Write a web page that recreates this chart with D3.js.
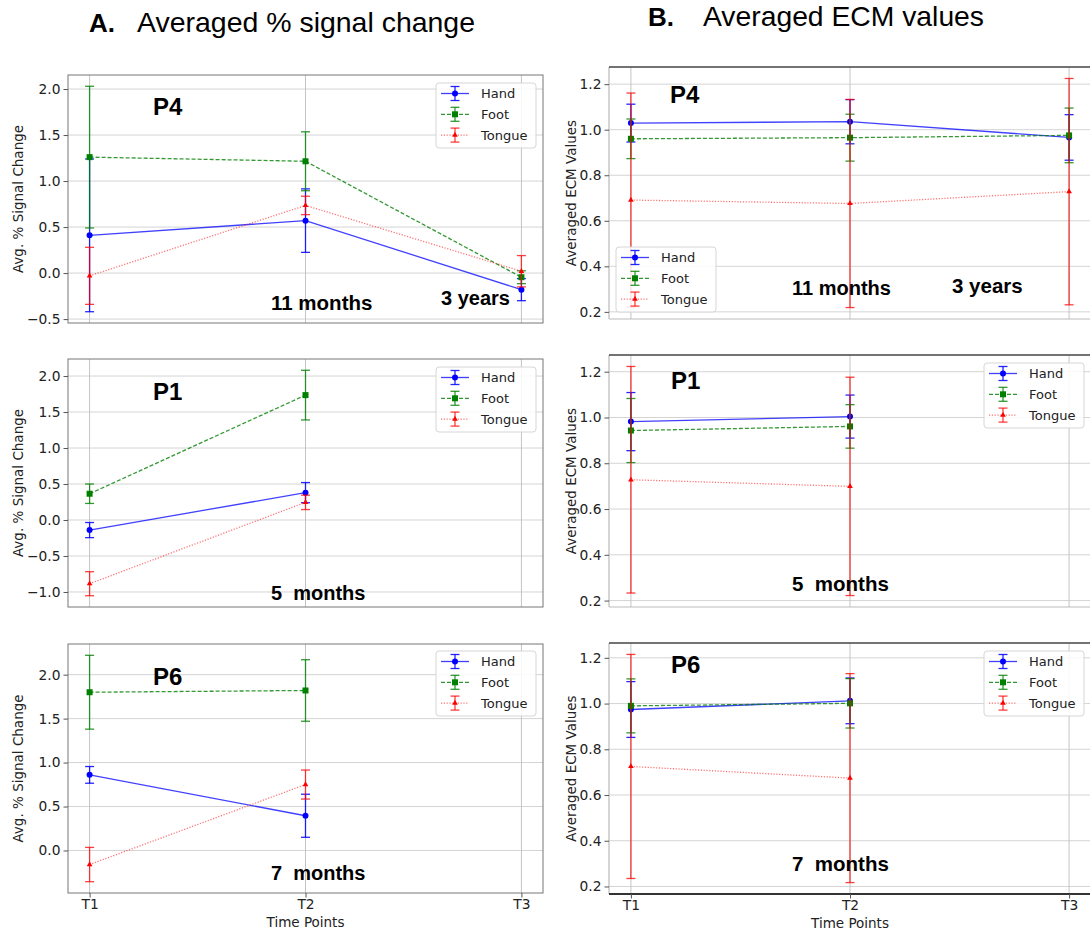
<!DOCTYPE html>
<html>
<head>
<meta charset="utf-8">
<title>Averaged % signal change and ECM values</title>
<script src="https://d3js.org/d3.v7.min.js"></script>
<style>
body { margin: 0; background: #fff; }
svg { display: block; }
text { font-family: "DejaVu Sans", sans-serif; fill: #222; }
.bold { font-family: "Liberation Sans", Arial, sans-serif; font-weight: bold; fill: #000; }
.head { font-family: "Liberation Sans Narrow", "Liberation Sans", Arial, sans-serif; fill: #000; }
</style>
</head>
<body>
<svg id="chart" width="1090" height="932"></svg>
<script>
// x axis categories and series names
var timePoints = ["T1", "T2", "T3"];
var groups = ["Hand", "Foot", "Tongue"];

// A. averaged % signal change (rows: Hand, Foot, Tongue), +/- error
var p4SignalMean = [[0.41, 0.57, -0.18], [1.26, 1.215, -0.045], [-0.03, 0.735, 0.02]];
var p4SignalErr  = [[0.83, 0.345, 0.12], [0.77, 0.32, 0.07], [0.31, 0.10, 0.17]];
var p1SignalMean = [[-0.14, 0.38], [0.365, 1.735], [-0.885, 0.245]];
var p1SignalErr  = [[0.105, 0.14], [0.135, 0.345], [0.167, 0.10]];
var p6SignalMean = [[0.86, 0.395], [1.80, 1.82], [-0.16, 0.75]];
var p6SignalErr  = [[0.095, 0.245], [0.42, 0.35], [0.195, 0.165]];

// B. averaged ECM values
var p4EcmMean = [[1.029, 1.035, 0.966], [0.96, 0.965, 0.975], [0.691, 0.676, 0.728]];
var p4EcmErr  = [[0.083, 0.097, 0.10], [0.087, 0.103, 0.12], [0.47, 0.457, 0.497]];
var p1EcmMean = [[0.982, 1.004], [0.943, 0.961], [0.728, 0.699]];
var p1EcmErr  = [[0.127, 0.094], [0.14, 0.095], [0.495, 0.477]];
var p6EcmMean = [[0.974, 1.012], [0.99, 1.001], [0.725, 0.674]];
var p6EcmErr  = [[0.122, 0.10], [0.118, 0.108], [0.49, 0.457]];

// tick values
var signalTicksP4 = [-0.5, 0, 0.5, 1, 1.5, 2];
var signalTicksP1 = [-1, -0.5, 0, 0.5, 1, 1.5, 2];
var signalTicksP6 = [0, 0.5, 1, 1.5, 2];
var ecmTicks = [0.2, 0.4, 0.6, 0.8, 1.0, 1.2];

var styles = [
  { color: "#0000ff", dash: null, marker: "circle", opacity: 0.75, barOpacity: 0.85 },
  { color: "#008000", dash: "4,2", marker: "square", opacity: 0.8, barOpacity: 0.8 },
  { color: "#ff0000", dash: "1.2,1.6", marker: "triangle", opacity: 0.55, barOpacity: 0.75 }
];

var panels = [
  { mean: p4SignalMean, err: p4SignalErr, ticks: signalTicksP4, left: 68, right: 543, top: 75, bottom: 323,
    ylabel: "Avg. % Signal Change", ylabelX: 18, frame: "a", legend: [436, 83],
    notes: [["P4", 153, 115, 24], ["11 months", 271, 310, 20.5], ["3 years", 441, 305, 20]] },
  { mean: p1SignalMean, err: p1SignalErr, ticks: signalTicksP1, left: 68, right: 543, top: 359, bottom: 607,
    ylabel: "Avg. % Signal Change", ylabelX: 18, frame: "a", legend: [436, 367],
    notes: [["P1", 153, 400, 24], ["5  months", 271, 600, 20]] },
  { mean: p6SignalMean, err: p6SignalErr, ticks: signalTicksP6, left: 68, right: 543, top: 644, bottom: 893,
    ylabel: "Avg. % Signal Change", ylabelX: 18, frame: "a", legend: [436, 651], xaxis: true,
    notes: [["P6", 153, 685, 24], ["7  months", 271, 880, 20]] },
  { mean: p4EcmMean, err: p4EcmErr, ticks: ecmTicks, left: 609, right: 1091, top: 67, bottom: 319,
    ylabel: "Averaged ECM Values", ylabelX: 571, frame: "b", legend: [616, 247],
    notes: [["P4", 670, 103, 24], ["11 months", 792, 295, 20], ["3 years", 952, 293, 20.5]] },
  { mean: p1EcmMean, err: p1EcmErr, ticks: ecmTicks, left: 609, right: 1091, top: 355, bottom: 607,
    ylabel: "Averaged ECM Values", ylabelX: 571, frame: "b", legend: [984, 363],
    notes: [["P1", 671, 389, 24], ["5  months", 792, 591, 20.5]] },
  { mean: p6EcmMean, err: p6EcmErr, ticks: ecmTicks, left: 609, right: 1091, top: 643, bottom: 894,
    ylabel: "Averaged ECM Values", ylabelX: 571, frame: "b", legend: [984, 651], xaxis: true, darkBottom: true,
    notes: [["P6", 671, 673, 24], ["7  months", 792, 871, 20.5]] }
];

var svg = d3.select("#chart");

// column headings
var headA = svg.append("g");
headA.append("text").attr("class", "bold").attr("x", 89).attr("y", 32).style("font-size", "26px").text("A.");
headA.append("text").attr("class", "head").attr("x", 137).attr("y", 32).style("font-size", "28px")
  .attr("textLength", 338).attr("lengthAdjust", "spacingAndGlyphs").text("Averaged % signal change");
var headB = svg.append("g");
headB.append("text").attr("class", "bold").attr("x", 648).attr("y", 26).style("font-size", "26px").text("B.");
headB.append("text").attr("class", "head").attr("x", 703).attr("y", 26).style("font-size", "28px")
  .attr("textLength", 281).attr("lengthAdjust", "spacingAndGlyphs").text("Averaged ECM values");

function drawMarker(g, type, cx, cy, color) {
  if (type === "circle") {
    g.append("circle").attr("cx", cx).attr("cy", cy).attr("r", 3).attr("fill", color);
  } else if (type === "square") {
    g.append("rect").attr("x", cx - 3).attr("y", cy - 3).attr("width", 6).attr("height", 6).attr("fill", color);
  } else {
    g.append("path").attr("d", d3.symbol(d3.symbolTriangle, 14)()).attr("transform", "translate(" + cx + "," + cy + ")")
      .attr("fill", color);
  }
}

function drawErrorBar(g, cx, y0, y1, color, opacity) {
  g.append("line").attr("x1", cx).attr("x2", cx).attr("y1", y0).attr("y2", y1)
    .attr("stroke", color).attr("stroke-width", 1.3).attr("opacity", opacity);
  [y0, y1].forEach(function (yy) {
    g.append("line").attr("x1", cx - 4.5).attr("x2", cx + 4.5).attr("y1", yy).attr("y2", yy)
      .attr("stroke", color).attr("stroke-width", 1.3).attr("opacity", opacity);
  });
}

panels.forEach(function (p) {
  var g = svg.append("g");

  // y domain = data extent with matplotlib's 5% margins
  var lo = d3.min(p.mean, function (row, s) { return d3.min(row, function (v, i) { return v - p.err[s][i]; }); });
  var hi = d3.max(p.mean, function (row, s) { return d3.max(row, function (v, i) { return v + p.err[s][i]; }); });
  var pad = (hi - lo) * 0.05;

  var x = d3.scalePoint().domain(timePoints).range([p.left, p.right]).padding(0.1);
  var y = d3.scaleLinear().domain([lo - pad, hi + pad]).range([p.bottom, p.top]);

  // grid
  g.selectAll(".hgrid").data(p.ticks).enter().append("line")
    .attr("x1", p.left).attr("x2", p.right).attr("y1", y).attr("y2", y)
    .attr("stroke", "#d4d4d4").attr("stroke-width", 1);
  g.selectAll(".vgrid").data(timePoints).enter().append("line")
    .attr("x1", x).attr("x2", x).attr("y1", p.top).attr("y2", p.bottom)
    .attr("stroke", "#c4c4c4").attr("stroke-width", 1);

  // frame
  if (p.frame === "a") {
    g.append("rect").attr("x", p.left).attr("y", p.top).attr("width", p.right - p.left).attr("height", p.bottom - p.top)
      .attr("fill", "none").attr("stroke", "#777").attr("stroke-width", 1);
  } else {
    g.append("line").attr("x1", p.left).attr("x2", p.left).attr("y1", p.top).attr("y2", p.bottom).attr("stroke", "#aaa");
    g.append("line").attr("x1", p.left).attr("x2", p.right).attr("y1", p.top).attr("y2", p.top)
      .attr("stroke", "#444").attr("stroke-width", 1.6);
    g.append("line").attr("x1", p.left).attr("x2", p.right).attr("y1", p.bottom).attr("y2", p.bottom)
      .attr("stroke", p.darkBottom ? "#333" : "#bbb").attr("stroke-width", p.darkBottom ? 2 : 1);
  }

  // y axis
  var yAxis = g.append("g").attr("transform", "translate(" + p.left + ",0)")
    .call(d3.axisLeft(y).tickValues(p.ticks).tickFormat(d3.format(".1f")).tickSize(4.5).tickPadding(3));
  yAxis.select(".domain").remove();
  yAxis.selectAll("line").attr("stroke", "#555");
  yAxis.selectAll("text").style("font-size", "13.8px").attr("fill", "#222").style("font-family", "DejaVu Sans");

  if (p.xaxis) {
    var xAxis = g.append("g").attr("transform", "translate(0," + p.bottom + ")")
      .call(d3.axisBottom(x).tickSize(4.5).tickPadding(2));
    xAxis.select(".domain").remove();
    xAxis.selectAll("line").attr("stroke", "#555");
    xAxis.selectAll("text").style("font-size", "13.8px").attr("fill", "#222").style("font-family", "DejaVu Sans");
    g.append("text").attr("x", x("T2")).attr("y", p.bottom + 34).attr("text-anchor", "middle")
      .style("font-size", "13.5px").attr("fill", "#333").text("Time Points");
  }

  // y label
  g.append("text").attr("transform", "translate(" + p.ylabelX + "," + (p.top + p.bottom) / 2 + ") rotate(-90)")
    .attr("text-anchor", "middle").attr("dy", "0.35em").style("font-size", "13.5px").attr("fill", "#333").text(p.ylabel);

  // series
  p.mean.forEach(function (row, s) {
    var st = styles[s];
    var pts = row.map(function (v, i) { return { t: timePoints[i], v: v, e: p.err[s][i] }; });
    var line = d3.line().x(function (d) { return x(d.t); }).y(function (d) { return y(d.v); });
    g.append("path").attr("d", line(pts)).attr("fill", "none").attr("stroke", st.color)
      .attr("stroke-width", 1.3).attr("stroke-dasharray", st.dash).attr("opacity", st.opacity);
    pts.forEach(function (d) {
      drawErrorBar(g, x(d.t), y(d.v - d.e), y(d.v + d.e), st.color, st.barOpacity);
    });
    pts.forEach(function (d) {
      drawMarker(g, st.marker, x(d.t), y(d.v), st.color);
    });
  });

  // bold annotations
  p.notes.forEach(function (n) {
    g.append("text").attr("class", "bold").attr("x", n[1]).attr("y", n[2]).style("font-size", n[3] + "px")
      .style("white-space", "pre").attr("xml:space", "preserve").text(n[0]);
  });

  // legend
  var lg = g.append("g").attr("transform", "translate(" + p.legend[0] + "," + p.legend[1] + ")");
  lg.append("rect").attr("width", 100).attr("height", 65).attr("rx", 3)
    .attr("fill", "#fff").attr("fill-opacity", 0.85).attr("stroke", "#d6d6d6");
  groups.forEach(function (name, s) {
    var st = styles[s];
    var ry = 10.5 + s * 20.8;
    lg.append("line").attr("x1", 5).attr("x2", 33).attr("y1", ry).attr("y2", ry)
      .attr("stroke", st.color).attr("stroke-width", 1.3).attr("stroke-dasharray", st.dash).attr("opacity", st.opacity);
    drawErrorBar(lg, 19, ry - 7, ry + 7, st.color, st.barOpacity);
    drawMarker(lg, st.marker, 19, ry, st.color);
    lg.append("text").attr("x", 45).attr("y", ry).attr("dy", "0.35em").style("font-size", "13px")
      .attr("fill", "#222").text(name);
  });
});
</script>
</body>
</html>
